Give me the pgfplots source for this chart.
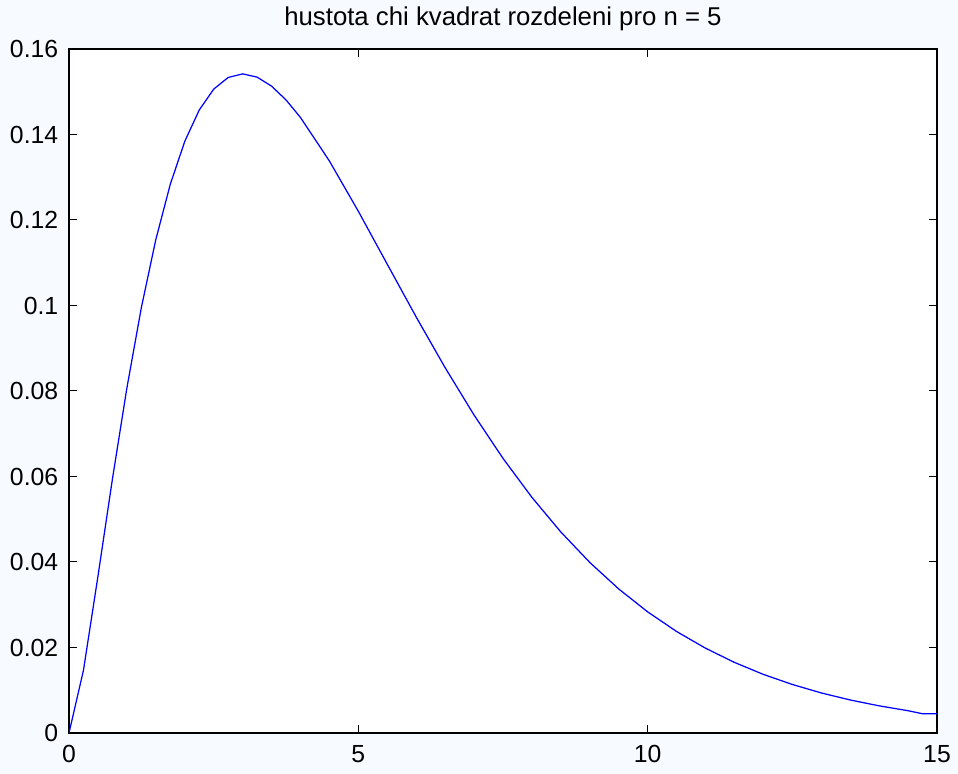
\documentclass[border=0pt]{standalone}
\usepackage{fontspec}
\setmainfont{Liberation Sans}
\usepackage{pgfplots}
\pgfplotsset{compat=1.18}
\definecolor{figbg}{RGB}{247,250,254}
\definecolor{mblue}{RGB}{0,0,255}
\begin{document}
\begin{tikzpicture}[x=1pt,y=1pt]
% 1px = 0.4pt ; image 958x774 px
\fill[figbg] (-27.6,-16.4) rectangle (355.6,293.2);
\begin{axis}[
    at={(0,0)}, anchor=south west,
    scale only axis,
    width=347.2pt, height=273.6pt,
    xmin=0, xmax=15, ymin=0, ymax=0.16,
    xtick={0,5,10,15},
    xticklabels={0,5,10,15},
    ytick={0,0.02,0.04,0.06,0.08,0.1,0.12,0.14,0.16},
    yticklabels={0,0.02,0.04,0.06,0.08,0.1,0.12,0.14,0.16},
    scaled y ticks=false,
    tick align=inside,
    major tick length=3.2pt,
    axis line style={line width=0.5pt},
    tick style={line width=0.4pt,black},
    axis background/.style={fill=white},
    ticklabel style={font=\fontsize{9.9}{11}\selectfont},
    yticklabel style={xshift=-0.8pt},
    xticklabel style={yshift=-1.5pt},
    title={hustota chi kvadrat rozdeleni pro n = 5},
    title style={font=\fontsize{10.3}{12}\selectfont, yshift=-2.2pt},
  ]
  \addplot[mblue,line width=0.5pt] coordinates {
    (0,0) (0.25,0.01467) (0.5,0.03662) (0.75,0.05936) (1,0.08066)
    (1.25,0.09948) (1.5,0.11540) (1.75,0.12833) (2,0.13837) (2.25,0.14571)
    (2.5,0.15060) (2.75,0.15333) (3,0.15418) (3.25,0.15342) (3.5,0.15131)
    (3.75,0.14809) (4,0.14398) (4.5,0.13380) (5,0.12204) (5.5,0.10965)
    (6,0.09730) (6.5,0.08545) (7,0.07437) (7.5,0.06424) (8,0.05511)
    (8.5,0.04701) (9,0.03989) (9.5,0.03369) (10,0.02833) (10.5,0.02374)
    (11,0.01983) (11.5,0.01651) (12,0.01370) (12.5,0.01135) (13,0.00937)
    (13.5,0.00772) (14,0.00635) (14.5,0.00521) (14.75,0.00450) (15,0.00450)
  };
\end{axis}
\pgfresetboundingbox
\path[use as bounding box] (-27.6,-16.4) rectangle (355.6,293.2);
\end{tikzpicture}
\end{document}
